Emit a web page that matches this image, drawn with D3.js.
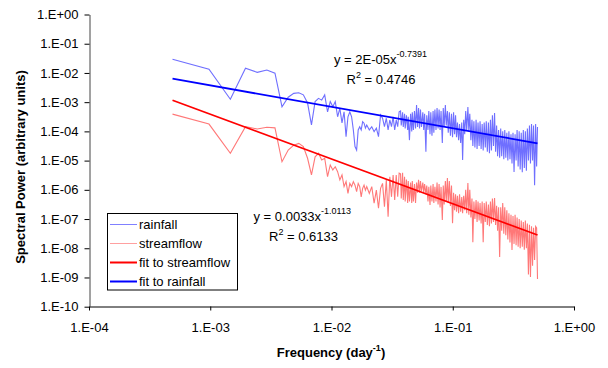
<!DOCTYPE html>
<html>
<head>
<meta charset="utf-8">
<script src="https://cdn.jsdelivr.net/npm/d3@7"></script>
<style>
  body { margin: 0; background: #fff; }
  svg { display: block; font-family: "Liberation Sans", Arial, sans-serif; }
</style>
</head>
<body>
<svg id="chart" width="608" height="368"></svg>
<script>
// record length in days, harmonic k -> frequency k / recordLength (day^-1)
var recordLength = 2048;

var harmonic = [
  1, 2, 3, 4, 5, 6, 7, 8, 9, 10,
  11, 12, 13, 14, 15, 16, 17, 18, 19, 20,
  21, 22, 23, 24, 25, 26, 27, 28, 29, 30,
  31, 32, 33, 34, 35, 36, 37, 38, 39, 40,
  42, 44, 46, 48, 50, 52, 54, 56, 58, 60,
  62, 64, 66, 68, 70, 72, 74,
  76, 77, 79, 80, 82, 83, 85, 87, 88, 90,
  92, 94, 95, 97, 99, 101, 103, 105, 107, 109,
  111, 113, 116, 118, 120, 123, 125, 128, 130, 133,
  135, 138, 141, 143, 146, 149, 152, 155, 158, 161,
  164, 168, 171, 174, 178, 181, 185, 188, 192, 196,
  200, 204, 208, 212, 216, 220, 224, 229, 233, 238,
  243, 247, 252, 257, 262, 267, 273, 278, 283, 289,
  295, 300, 306, 312, 319, 325, 331, 338, 344, 351,
  358, 365, 372, 380, 387, 395, 403, 411, 419, 427,
  435, 444, 453, 462, 471, 480, 489, 499, 509, 519,
  529, 540, 550, 561, 572, 583, 595, 607, 619, 631,
  643, 656, 669, 682, 695, 709, 723, 737, 752, 767,
  782, 797, 813, 829, 845, 862, 879, 896, 914, 932,
  950, 969, 988, 1007, 1024
];

// log10 of spectral power
var rainfallLog = [
  -1.53, -1.87, -2.90, -1.84, -1.98, -1.90, -2.01, -3.16, -2.83, -2.70,
  -2.68, -2.75, -3.03, -3.78, -2.98, -2.87, -2.93, -2.75, -3.33, -2.98,
  -3.16, -2.98, -3.50, -3.21, -3.71, -3.33, -4.18, -3.50, -3.33, -3.50,
  -3.95, -4.52, -4.64, -3.95, -3.84, -3.95, -3.67, -3.72, -3.89, -3.78,
  -3.95, -3.84, -4.01, -3.89, -4.18, -3.44, -3.55, -3.84, -3.55, -3.95,
  -3.61, -3.84, -3.50, -3.95, -3.61, -3.84, -3.33,
  -3.30, -3.80, -3.35, -3.85, -3.40, -3.90, -3.45, -3.95, -3.50, -4.30,
  -3.40, -4.00, -3.35, -3.95, -3.30, -3.90, -3.10, -3.85, -3.20, -3.90,
  -3.25, -3.85, -3.35, -3.95, -3.40, -4.70, -3.45, -3.95, -3.30, -4.10,
  -3.35, -4.15, -3.30, -4.05, -3.25, -3.95, -3.20, -3.90, -3.25, -3.95,
  -3.30, -4.40, -3.20, -3.85, -3.10, -3.80, -3.30, -4.05, -3.35, -4.15,
  -3.40, -4.20, -3.35, -4.10, -3.45, -4.20, -3.70, -4.30, -3.75, -4.40,
  -3.70, -4.98, -3.60, -4.10, -3.30, -3.95, -3.17, -4.00, -3.40, -4.30,
  -3.60, -4.50, -3.65, -4.55, -3.60, -4.60, -3.70, -4.50, -3.65, -4.60,
  -3.75, -4.65, -3.70, -4.55, -3.65, -4.70, -3.70, -4.75, -3.60, -4.65,
  -3.45, -4.50, -3.37, -4.70, -3.80, -4.85, -3.95, -4.90, -3.90, -4.85,
  -4.00, -4.95, -3.95, -4.90, -4.05, -5.00, -4.00, -4.95, -4.10, -5.10,
  -4.05, -5.39, -4.10, -5.00, -3.95, -5.20, -4.00, -5.30, -4.05, -5.40,
  -3.95, -5.25, -4.00, -5.35, -3.90, -5.00, -3.80, -5.10, -3.75, -5.00,
  -3.80, -5.84, -3.75, -5.20, -3.85
];

var streamflowLog = [
  -3.41, -3.75, -4.75, -3.84, -3.92, -3.86, -3.88, -5.04, -4.64, -4.47,
  -4.41, -4.52, -4.92, -5.49, -4.87, -4.75, -4.98, -4.92, -5.55, -5.15,
  -5.32, -5.21, -5.38, -5.66, -5.49, -5.89, -5.72, -6.12, -5.78, -5.89,
  -5.72, -5.84, -6.06, -5.78, -5.89, -6.24, -5.95, -5.84, -6.01, -5.89,
  -6.12, -5.89, -6.46, -6.01, -6.63, -5.95, -5.78, -6.58, -5.66, -6.92,
  -5.55, -6.24, -5.49, -6.35, -5.49, -6.24, -5.43,
  -5.45, -6.30, -5.42, -6.35, -5.55, -6.40, -5.65, -6.45, -5.70, -6.40,
  -5.75, -6.45, -5.70, -6.40, -5.80, -6.45, -5.75, -6.10, -5.66, -6.10,
  -5.70, -6.05, -5.75, -6.10, -5.80, -6.15, -5.85, -6.40, -5.90, -6.52,
  -5.85, -6.40, -5.80, -6.45, -5.90, -6.40, -5.75, -6.50, -5.80, -6.60,
  -5.90, -7.03, -5.85, -6.50, -5.70, -6.40, -5.60, -6.45, -5.70, -6.55,
  -5.85, -7.14, -6.10, -6.70, -6.15, -6.75, -6.20, -6.80, -6.15, -6.75,
  -6.25, -6.80, -6.20, -6.70, -6.00, -6.80, -5.77, -6.85, -6.00, -6.95,
  -6.30, -7.79, -6.40, -7.00, -6.35, -7.10, -6.40, -7.05, -6.45, -7.15,
  -6.40, -7.79, -6.45, -7.10, -6.40, -7.20, -6.50, -7.25, -6.40, -7.15,
  -6.30, -7.10, -6.28, -7.20, -6.55, -7.40, -6.60, -8.30, -6.60, -7.40,
  -6.45, -7.50, -6.60, -7.55, -6.70, -7.70, -6.80, -7.80, -6.85, -8.06,
  -6.90, -7.85, -6.85, -7.90, -6.95, -7.95, -7.00, -8.00, -7.05, -7.95,
  -7.10, -8.05, -7.05, -8.00, -7.15, -8.90, -7.20, -8.98, -7.25, -8.60,
  -7.30, -8.40, -7.25, -7.30, -9.05
];

// power-law fit lines, end points (freq, power)
var fitFreq = [1 / 2048, 0.5];
var fitRainfall = [6.35e-3, 3.9e-5];
var fitStreamflow = [1.16e-3, 2.84e-8];

var xTicks = [1e-4, 1e-3, 1e-2, 1e-1, 1];
var yTicks = [1, 1e-1, 1e-2, 1e-3, 1e-4, 1e-5, 1e-6, 1e-7, 1e-8, 1e-9, 1e-10];

var legendItems = [
  { label: "rainfall", color: "#8080ff", width: 1 },
  { label: "streamflow", color: "#ffa0a0", width: 1 },
  { label: "fit to streamflow", color: "#ff0000", width: 2 },
  { label: "fit to rainfall", color: "#0000ff", width: 2 }
];

var svg = d3.select("#chart");

var x = d3.scaleLog().domain([1e-4, 1]).range([89, 574]);
var y = d3.scaleLog().domain([1e-10, 1]).range([306.7, 14.5]);

function sciLabel(d) {
  var e = Math.round(Math.log10(d));
  return "1.E" + (e < 0 ? "-" : "+") + String(Math.abs(e)).padStart(2, "0");
}

// axes
var xAxis = svg.append("g")
  .attr("transform", "translate(0,306.5)")
  .call(d3.axisBottom(x).tickValues(xTicks).tickFormat(sciLabel).tickSize(4).tickSizeOuter(0));
xAxis.selectAll("text").attr("dy", null).attr("y", 25.5);

var yAxis = svg.append("g")
  .attr("transform", "translate(89.5,0)")
  .call(d3.axisLeft(y).tickValues(yTicks).tickFormat(sciLabel).tickSize(5).tickSizeOuter(0));
yAxis.selectAll("text").attr("x", -11);

svg.selectAll(".tick text")
  .style("font-family", "'Liberation Sans', Arial, sans-serif")
  .style("font-size", "13px")
  .attr("fill", "#000");
svg.selectAll(".domain, .tick line").attr("stroke", "#000");
yAxis.select(".domain").attr("stroke", "#444");

// series
var rain = harmonic.map(function (k, i) { return [k / recordLength, Math.pow(10, rainfallLog[i])]; });
var flow = harmonic.map(function (k, i) { return [k / recordLength, Math.pow(10, streamflowLog[i])]; });

var line = d3.line()
  .x(function (d) { return x(d[0]); })
  .y(function (d) { return y(d[1]); });

svg.append("path").datum(rain)
  .attr("d", line).attr("fill", "none")
  .attr("stroke", "#6f6fff").attr("stroke-width", 1.1);

svg.append("path").datum(flow)
  .attr("d", line).attr("fill", "none")
  .attr("stroke", "#ff7878").attr("stroke-width", 1.1);

svg.append("path").datum(fitFreq.map(function (f, i) { return [f, fitStreamflow[i]]; }))
  .attr("d", line).attr("fill", "none")
  .attr("stroke", "#ff0000").attr("stroke-width", 1.8);

svg.append("path").datum(fitFreq.map(function (f, i) { return [f, fitRainfall[i]]; }))
  .attr("d", line).attr("fill", "none")
  .attr("stroke", "#0000ff").attr("stroke-width", 1.8);

// equations
function equation(x0, y0, coef, expo, x1, r2) {
  var t = svg.append("text").attr("x", x0).attr("y", y0)
    .style("font-size", "13px").attr("fill", "#000");
  t.append("tspan").text("y = " + coef + "x");
  t.append("tspan").attr("dy", -7).style("font-size", "9px").text(expo);
  var r = svg.append("text").attr("x", x1).attr("y", y0 + 19.5)
    .style("font-size", "13px").attr("fill", "#000");
  r.append("tspan").text("R");
  r.append("tspan").attr("dy", -6).style("font-size", "9px").text("2");
  r.append("tspan").attr("dy", 6).text(" = " + r2);
}
equation(334, 64, "2E-05", "-0.7391", 346.5, "0.4746");
equation(253.5, 221, "0.0033", "-1.0113", 269, "0.6133");

// legend
var legend = svg.append("g");
legend.append("rect")
  .attr("x", 107.5).attr("y", 213.5).attr("width", 130).attr("height", 76.5)
  .attr("fill", "#fff").attr("stroke", "#000");
var rows = legend.selectAll("g.item").data(legendItems).enter().append("g")
  .attr("class", "item")
  .attr("transform", function (d, i) { return "translate(0," + (224.5 + i * 19) + ")"; });
rows.append("line")
  .attr("x1", 110).attr("x2", 137)
  .attr("stroke", function (d) { return d.color; })
  .attr("stroke-width", function (d) { return d.width; });
rows.append("text")
  .attr("x", 139).attr("y", 4.5)
  .style("font-size", "13px").attr("fill", "#000")
  .text(function (d) { return d.label; });

// axis titles
var xt = svg.append("text")
  .attr("x", 331).attr("y", 357)
  .attr("text-anchor", "middle")
  .style("font-size", "13px").style("font-weight", "bold");
xt.append("tspan").text("Frequency (day");
xt.append("tspan").attr("dy", -6).style("font-size", "9px").text("-1");
xt.append("tspan").attr("dy", 6).text(")");

svg.append("text")
  .attr("transform", "translate(25,167) rotate(-90)")
  .attr("text-anchor", "middle")
  .style("font-size", "13px").style("font-weight", "bold")
  .text("Spectral Power (arbitrary units)");
</script>
</body>
</html>
